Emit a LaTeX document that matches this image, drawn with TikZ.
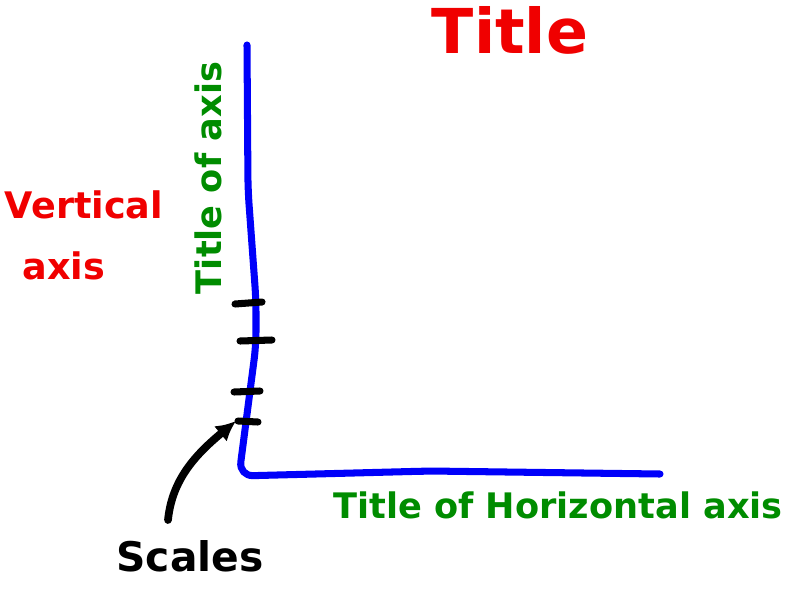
\documentclass[tikz,border=0pt]{standalone}
\usepackage{fontspec}
\setmainfont{DejaVu Sans}
\usepackage{xcolor}
\usetikzlibrary{arrows.meta}
\definecolor{sketchred}{RGB}{240,0,0}
\definecolor{sketchgreen}{RGB}{0,140,0}
\definecolor{sketchblue}{RGB}{0,0,250}

\begin{document}
\begin{tikzpicture}[x=0.025cm, y=-0.025cm,
  heading/.style={text=sketchred, font=\bfseries\fontsize{44}{50}\selectfont, inner sep=0pt},
  note/.style={text=sketchred, font=\bfseries\fontsize{26}{30}\selectfont, inner sep=0pt, align=left},
  axtitle/.style={text=sketchgreen, font=\bfseries\fontsize{25}{30}\selectfont, inner sep=0pt},
  callout/.style={text=black, font=\bfseries\fontsize{29}{34}\selectfont, inner sep=0pt},
  axisline/.style={draw=sketchblue, line width=5pt, line cap=round, line join=round, rounded corners=10},
  tickmark/.style={draw=black, line width=5pt, line cap=round},
  pointer/.style={-{Latex[length=5mm, width=5mm]}, draw=black, line width=5.5pt, line cap=round}
]
\useasboundingbox (0,0) rectangle (788,599);

\node[heading] (title) at (510,30) {Title};
\node[note] (vert) at (84,205) {Vertical};
\node[note] (vaxis) at (64,266) {axis};
\node[axtitle, rotate=90] (ytitle) at (208,178) {Title of axis};
\node[axtitle] (xtitle) at (558,505) {Title of Horizontal axis};
\node[callout] (scales) at (190,556) {Scales};

% axes
\coordinate (ytop) at (247,45);
\coordinate (origin) at (239,476);
\coordinate (xend) at (660,474);
\draw[axisline] (ytop) -- (248,190) -- (256,300) -- (256,345) -- (origin)
  -- (430,471) -- (xend);

% scale ticks
\draw[tickmark] (235,304) -- (262,302);
\draw[tickmark] (240,341) -- (272,340);
\draw[tickmark] (234,392) -- (260,391);
\draw[tickmark] (238,421) -- (258,422);
\coordinate (t4) at (236,421);

\coordinate (tail) at (168,520);
\draw[pointer] (tail) .. controls (172,480) and (195,455) .. (t4);
\end{tikzpicture}
\end{document}
